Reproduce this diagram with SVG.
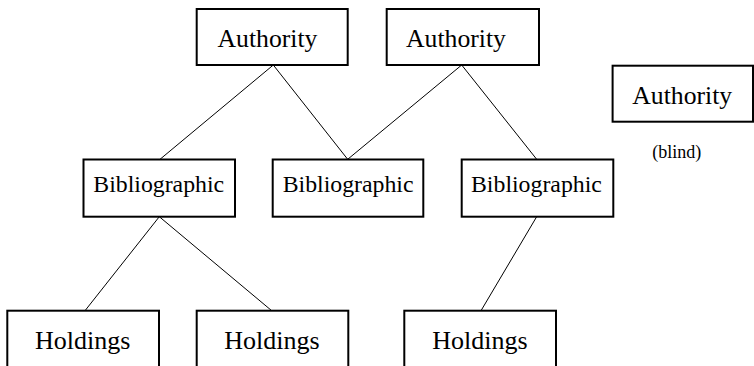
<svg xmlns="http://www.w3.org/2000/svg" width="754" height="366" viewBox="0 0 754 366">
<style>
.box{fill:#fff;stroke:#000;stroke-width:2}
.edge{stroke:#000;stroke-width:1;fill:none}
text{font-family:"Liberation Serif","Times New Roman",serif;fill:#000}
.auth{font-size:25.7px}
.bib{font-size:23.8px}
.hold{font-size:26px}
.note{font-size:18px}
</style>
<rect width="754" height="366" fill="#fff"/>
<g id="connectors">
<line class="edge" x1="273.3" y1="65" x2="160" y2="159.3"/>
<line class="edge" x1="273.3" y1="65" x2="347.7" y2="159.3"/>
<line class="edge" x1="461.7" y1="65" x2="347.7" y2="159.3"/>
<line class="edge" x1="461.7" y1="65" x2="536.7" y2="159.3"/>
<line class="edge" x1="159.3" y1="216.7" x2="85" y2="310.7"/>
<line class="edge" x1="159.3" y1="216.7" x2="271.7" y2="310.7"/>
<line class="edge" x1="536.7" y1="216.7" x2="481" y2="310.7"/>
</g>
<g id="authority1">
<rect class="box" x="196.7" y="9" width="151" height="56"/>
<text class="auth" x="217.5" y="46.7">Authority</text>
</g>
<g id="authority2">
<rect class="box" x="386.7" y="9" width="152.3" height="56"/>
<text class="auth" x="406" y="46.7">Authority</text>
</g>
<g id="authority3">
<rect class="box" x="612.6" y="65.7" width="140.4" height="56"/>
<text class="auth" x="632.3" y="104">Authority</text>
<text class="note" x="652.3" y="157.7">(blind)</text>
</g>
<g id="bibliographic1">
<rect class="box" x="83.5" y="159.5" width="151.5" height="57.2"/>
<text class="bib" x="93.3" y="192.3">Bibliographic</text>
</g>
<g id="bibliographic2">
<rect class="box" x="272.7" y="159.5" width="150.6" height="57.2"/>
<text class="bib" x="282.7" y="192.3">Bibliographic</text>
</g>
<g id="bibliographic3">
<rect class="box" x="461.7" y="159.5" width="151.6" height="57.2"/>
<text class="bib" x="471" y="192.3">Bibliographic</text>
</g>
<g id="holdings1">
<rect class="box" x="7.3" y="310.7" width="151.7" height="70"/>
<text class="hold" x="35" y="349">Holdings</text>
</g>
<g id="holdings2">
<rect class="box" x="196.7" y="310.7" width="151.6" height="70"/>
<text class="hold" x="224.3" y="349">Holdings</text>
</g>
<g id="holdings3">
<rect class="box" x="404.3" y="310.7" width="151.7" height="70"/>
<text class="hold" x="432.3" y="349">Holdings</text>
</g>
</svg>
